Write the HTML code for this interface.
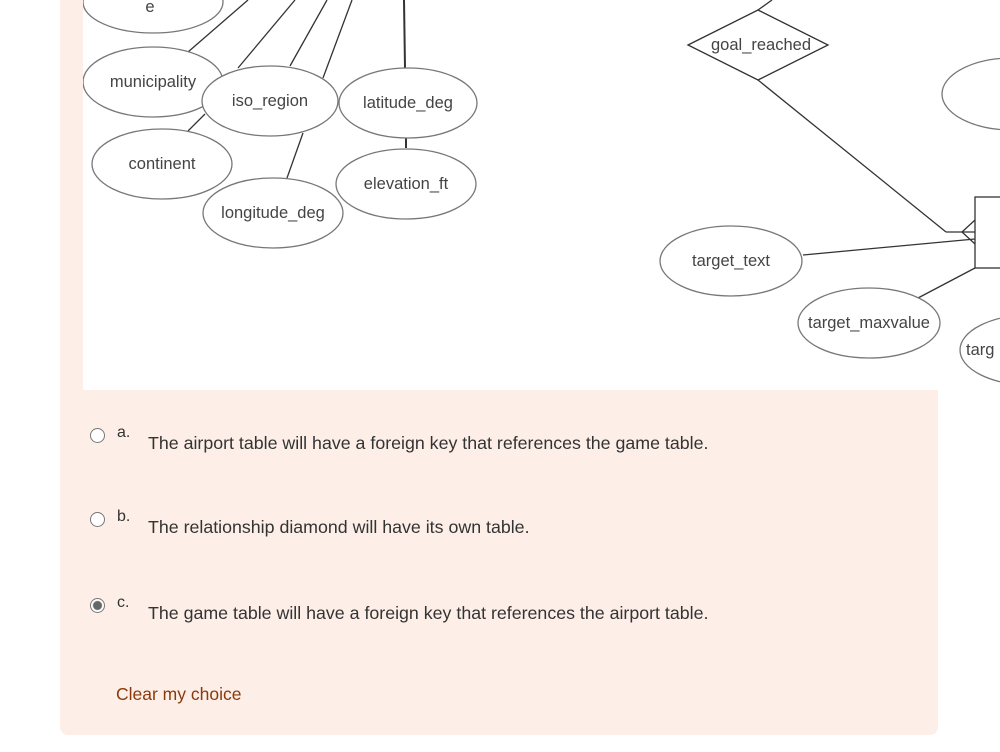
<!DOCTYPE html>
<html><head><meta charset="utf-8"><style>
body{margin:0;width:1000px;height:752px;background:#fff;position:relative;overflow:hidden;font-family:"Liberation Sans",sans-serif}
.panel{position:absolute;left:60px;top:-10px;width:878px;height:745px;background:#fdefe8;border-radius:8px}
svg{position:absolute;left:83px;top:0}
.opt{position:absolute;left:90px;color:#333;font-size:17.8px}
.opt .r{position:absolute;left:0;top:0;width:13px;height:13px;border:1px solid #777;border-radius:50%;background:#fff}
.opt .l{position:absolute;left:27px;top:-4px;font-size:16px}
.opt .t{position:absolute;left:58px;top:5px;white-space:nowrap}
</style></head><body>
<div class="panel"></div>
<svg width="917" height="390" viewBox="83 0 917 390" style="background:#fff">
<g stroke="#333" stroke-width="1.3" fill="none">
<line x1="188" y1="52" x2="248" y2="0"/>
<line x1="238" y1="68" x2="295" y2="0"/>
<line x1="290" y1="66" x2="327" y2="0"/>
<line x1="323" y1="78" x2="352" y2="0"/>
<line x1="404" y1="0" x2="405" y2="68" stroke-width="2"/>
<line x1="406" y1="138" x2="406" y2="148" stroke-width="2"/>
<line x1="188" y1="131" x2="205" y2="114"/>
<line x1="287" y1="178" x2="303" y2="133"/>
<line x1="758" y1="10" x2="772" y2="0"/>
<line x1="758" y1="80" x2="946" y2="232"/>
<line x1="946" y1="232" x2="975" y2="232"/>
<line x1="962" y1="232" x2="975" y2="220"/>
<line x1="962" y1="232" x2="975" y2="244"/>
<line x1="803" y1="255" x2="975" y2="239"/>
<line x1="918" y1="298" x2="975" y2="268"/>
</g>
<g stroke="#777" stroke-width="1.3" fill="#fff">
<ellipse cx="153" cy="2" rx="70" ry="31"/>
<ellipse cx="153" cy="82" rx="70" ry="35"/>
<ellipse cx="270" cy="101" rx="68" ry="35"/>
<ellipse cx="408" cy="103" rx="69" ry="35"/>
<ellipse cx="162" cy="164" rx="70" ry="35"/>
<ellipse cx="406" cy="184" rx="70" ry="35"/>
<ellipse cx="273" cy="213" rx="70" ry="35"/>
<ellipse cx="731" cy="261" rx="71" ry="35"/>
<ellipse cx="869" cy="323" rx="71" ry="35"/>
<ellipse cx="1012" cy="94" rx="70" ry="36"/>
<ellipse cx="1030" cy="350" rx="70" ry="35"/>
</g>
<polygon points="688,45 758,10 828,45 758,80" fill="#fff" stroke="#333" stroke-width="1.3"/>
<rect x="975" y="197" width="40" height="71" fill="#fff" stroke="#333" stroke-width="1.3"/>
<g font-family="Liberation Sans, sans-serif" font-size="16.5" fill="#444" text-anchor="middle">
<text x="150" y="12">e</text>
<text x="153" y="87">municipality</text>
<text x="270" y="106">iso_region</text>
<text x="408" y="108">latitude_deg</text>
<text x="162" y="169">continent</text>
<text x="406" y="189">elevation_ft</text>
<text x="273" y="218">longitude_deg</text>
<text x="761" y="50">goal_reached</text>
<text x="731" y="266">target_text</text>
<text x="869" y="328">target_maxvalue</text>
<text x="966" y="355" text-anchor="start">targ</text>
</g>
</svg>
<div class="opt" style="top:428px"><span class="r"></span><span class="l">a.</span><span class="t">The airport table will have a foreign key that references the game table.</span></div>
<div class="opt" style="top:512px"><span class="r"></span><span class="l">b.</span><span class="t">The relationship diamond will have its own table.</span></div>
<div class="opt" style="top:598px"><span class="r" style="background:radial-gradient(circle,#666 0 4px,#fff 5px)"></span><span class="l">c.</span><span class="t">The game table will have a foreign key that references the airport table.</span></div>
<div style="position:absolute;left:116px;top:684px;font-size:17.5px;color:#8a3a0a">Clear my choice</div>
</body></html>
